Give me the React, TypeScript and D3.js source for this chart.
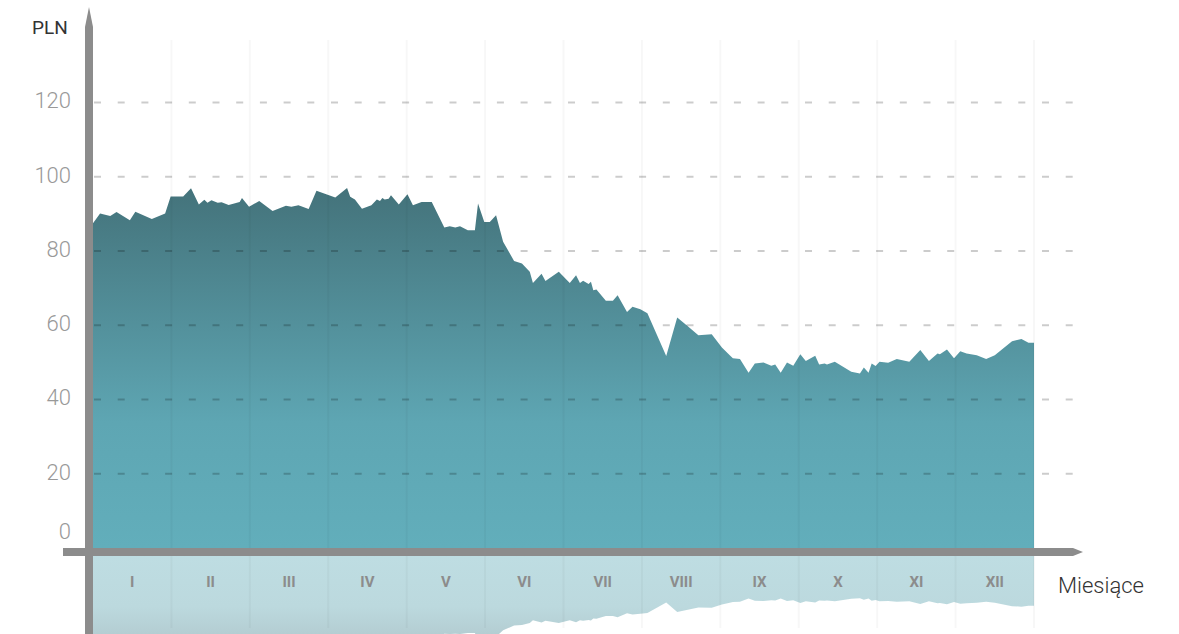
import React, { useEffect, useRef } from 'react';
import * as d3 from 'd3';

// month position (0 = start of January, 12 = end of December)
const priceT = [
  0, 0.09, 0.22, 0.3, 0.47, 0.54, 0.75, 0.92, 0.99, 1.15, 1.25, 1.35, 1.42, 1.46, 1.51, 1.59, 1.64, 1.73, 1.87, 1.9,
  1.99, 2.12, 2.29, 2.46, 2.53, 2.62, 2.75, 2.85, 3.09, 3.24, 3.28, 3.34, 3.43, 3.55, 3.62, 3.66, 3.69, 3.72, 3.77, 3.8,
  3.9, 4.01, 4.08, 4.19, 4.32, 4.48, 4.55, 4.62, 4.68, 4.78, 4.87, 4.91, 4.99, 5.06, 5.14, 5.23, 5.37, 5.47, 5.57, 5.61,
  5.72, 5.77, 5.94, 6.08, 6.16, 6.21, 6.25, 6.32, 6.35, 6.38, 6.42, 6.54, 6.63, 6.69, 6.81, 6.88, 6.98, 7.07, 7.31, 7.45,
  7.57, 7.72, 7.89, 8.02, 8.12, 8.16, 8.25, 8.36, 8.44, 8.55, 8.65, 8.7, 8.77, 8.85, 8.93, 9.02, 9.09, 9.21, 9.26, 9.33,
  9.36, 9.46, 9.67, 9.78, 9.83, 9.89, 9.93, 9.98, 10.03, 10.14, 10.25, 10.41, 10.55, 10.66, 10.77, 10.8, 10.89, 10.98, 11.06, 11.14,
  11.27, 11.39, 11.5, 11.72, 11.84, 11.93, 12,
];

// price in PLN
const priceV = [
  87.5, 90.1, 89.4, 90.5, 88.3, 90.6, 88.6, 90.1, 94.7, 94.7, 96.9, 92.5, 93.8, 93.0, 93.7, 93.0, 93.1, 92.4, 93.2, 94.3,
  91.9, 93.5, 90.8, 92.2, 91.9, 92.3, 91.3, 96.2, 94.4, 97.0, 94.6, 93.9, 91.4, 92.3, 93.9, 93.5, 94.3, 93.9, 94.1, 95.0,
  92.5, 95.3, 92.3, 93.2, 93.2, 86.3, 86.7, 86.3, 86.7, 85.6, 85.6, 92.8, 87.8, 87.8, 89.6, 82.5, 77.3, 76.6, 74.4, 71.4,
  73.9, 71.9, 74.4, 71.4, 73.5, 71.4, 72.0, 71.1, 71.7, 69.4, 69.6, 66.6, 66.6, 68.1, 63.6, 65.0, 64.3, 63.2, 51.7, 62.1,
  60.0, 57.3, 57.6, 54.0, 51.9, 51.1, 50.9, 47.2, 49.7, 50.0, 49.1, 49.4, 47.2, 50.0, 49.1, 52.2, 50.4, 51.8, 49.4, 49.7,
  49.4, 50.2, 47.5, 47.0, 48.6, 47.2, 49.7, 49.0, 50.2, 49.9, 50.9, 50.2, 53.3, 50.4, 52.4, 52.2, 53.5, 51.1, 53.0, 52.4,
  51.9, 50.9, 51.9, 55.7, 56.3, 55.3, 55.3,
];

const monthLabels = ['I', 'II', 'III', 'IV', 'V', 'VI', 'VII', 'VIII', 'IX', 'X', 'XI', 'XII'];
const yTicks = [0, 20, 40, 60, 80, 100, 120];

const W = 1179;
const H = 634;

export default function App() {
  const svgRef = useRef<SVGSVGElement>(null);

  useEffect(() => {
    if (!svgRef.current) return;
    const svg = d3.select(svgRef.current);
    svg.selectAll('*').remove();

    const data = priceT.map((t, i) => ({ t, v: priceV[i] }));
    const font = 'Roboto, sans-serif';
    const axisColor = '#8c8c8c';

    const x = d3.scaleLinear().domain([0, 12]).range([93, 1034]);
    const y = d3.scaleLinear().domain([0, 120]).range([548, 102.5]);
    // mirrored, squashed copy under the axis
    const yr = d3.scaleLinear().domain([0, 120]).range([556, 664]);

    const defs = svg.append('defs');
    const grad = defs.append('linearGradient')
      .attr('id', 'areaGrad')
      .attr('gradientUnits', 'userSpaceOnUse')
      .attr('x1', 0).attr('x2', 0)
      .attr('y1', 190).attr('y2', 548);
    grad.append('stop').attr('offset', '0%').attr('stop-color', '#44737b');
    grad.append('stop').attr('offset', '65%').attr('stop-color', '#5ea6b3');
    grad.append('stop').attr('offset', '100%').attr('stop-color', '#62aebb');

    const rgrad = defs.append('linearGradient')
      .attr('id', 'reflGrad')
      .attr('gradientUnits', 'userSpaceOnUse')
      .attr('x1', 0).attr('x2', 0)
      .attr('y1', 556).attr('y2', 640);
    rgrad.append('stop').attr('offset', '0%').attr('stop-color', '#bedde2');
    rgrad.append('stop').attr('offset', '60%').attr('stop-color', '#bcd9de');
    rgrad.append('stop').attr('offset', '100%').attr('stop-color', '#b2cbd0');

    // Main area
    const area = d3.area<typeof data[0]>()
      .x(d => x(d.t))
      .y0(y(0))
      .y1(d => y(d.v));
    svg.append('path').datum(data).attr('d', area).attr('fill', 'url(#areaGrad)');

    // Reflection
    const refl = d3.area<typeof data[0]>()
      .x(d => x(d.t))
      .y0(yr(0))
      .y1(d => yr(d.v));
    svg.append('path').datum(data).attr('d', refl).attr('fill', 'url(#reflGrad)');

    // Month separators
    d3.range(1, 13).forEach(m => {
      svg.append('line')
        .attr('x1', x(m)).attr('x2', x(m))
        .attr('y1', 40).attr('y2', 628)
        .attr('stroke', 'rgba(0,0,0,0.03)')
        .attr('stroke-width', 2);
    });

    // Horizontal dashed grid
    yTicks.filter(t => t > 0).forEach(t => {
      svg.append('line')
        .attr('x1', 94).attr('x2', 1078)
        .attr('y1', y(t)).attr('y2', y(t))
        .attr('stroke', 'rgba(0,0,0,0.2)')
        .attr('stroke-width', 2)
        .attr('stroke-dasharray', '7 16.7');
    });

    // Y tick labels
    yTicks.forEach(t => {
      svg.append('text')
        .attr('x', 71)
        .attr('y', t === 0 ? y(t) - 17 : y(t) - 2)
        .attr('dy', '0.36em')
        .attr('text-anchor', 'end')
        .attr('font-family', font)
        .attr('font-weight', 300)
        .attr('font-size', '22px')
        .attr('fill', '#999')
        .text(t);
    });

    // Month labels
    monthLabels.forEach((lab, i) => {
      svg.append('text')
        .attr('x', x(i + 0.5))
        .attr('y', 587)
        .attr('text-anchor', 'middle')
        .attr('font-family', font)
        .attr('font-weight', 'bold')
        .attr('font-size', '15px')
        .attr('fill', '#8c8c8c')
        .text(lab);
    });

    // Axes
    svg.append('path')
      .attr('d', `M85,27 L89,7 L93,27 L93,${H + 2} L85,${H + 2} Z`)
      .attr('fill', axisColor);
    svg.append('path')
      .attr('d', 'M63,548 L1073,548 L1083,552 L1073,556 L63,556 Z')
      .attr('fill', axisColor);

    svg.append('text')
      .attr('x', 32).attr('y', 34)
      .attr('font-family', font)
      .attr('font-size', '19px')
      .attr('fill', '#333')
      .text('PLN');

    svg.append('text')
      .attr('x', 1058).attr('y', 593)
      .attr('font-family', font)
      .attr('font-weight', 300)
      .attr('font-size', '22px')
      .attr('fill', '#333')
      .text('Miesiące');
  }, []);

  return (
    <svg
      ref={svgRef}
      width={W}
      height={H}
      style={{ position: 'absolute', left: 0, top: 0, background: '#fff' }}
    />
  );
}
